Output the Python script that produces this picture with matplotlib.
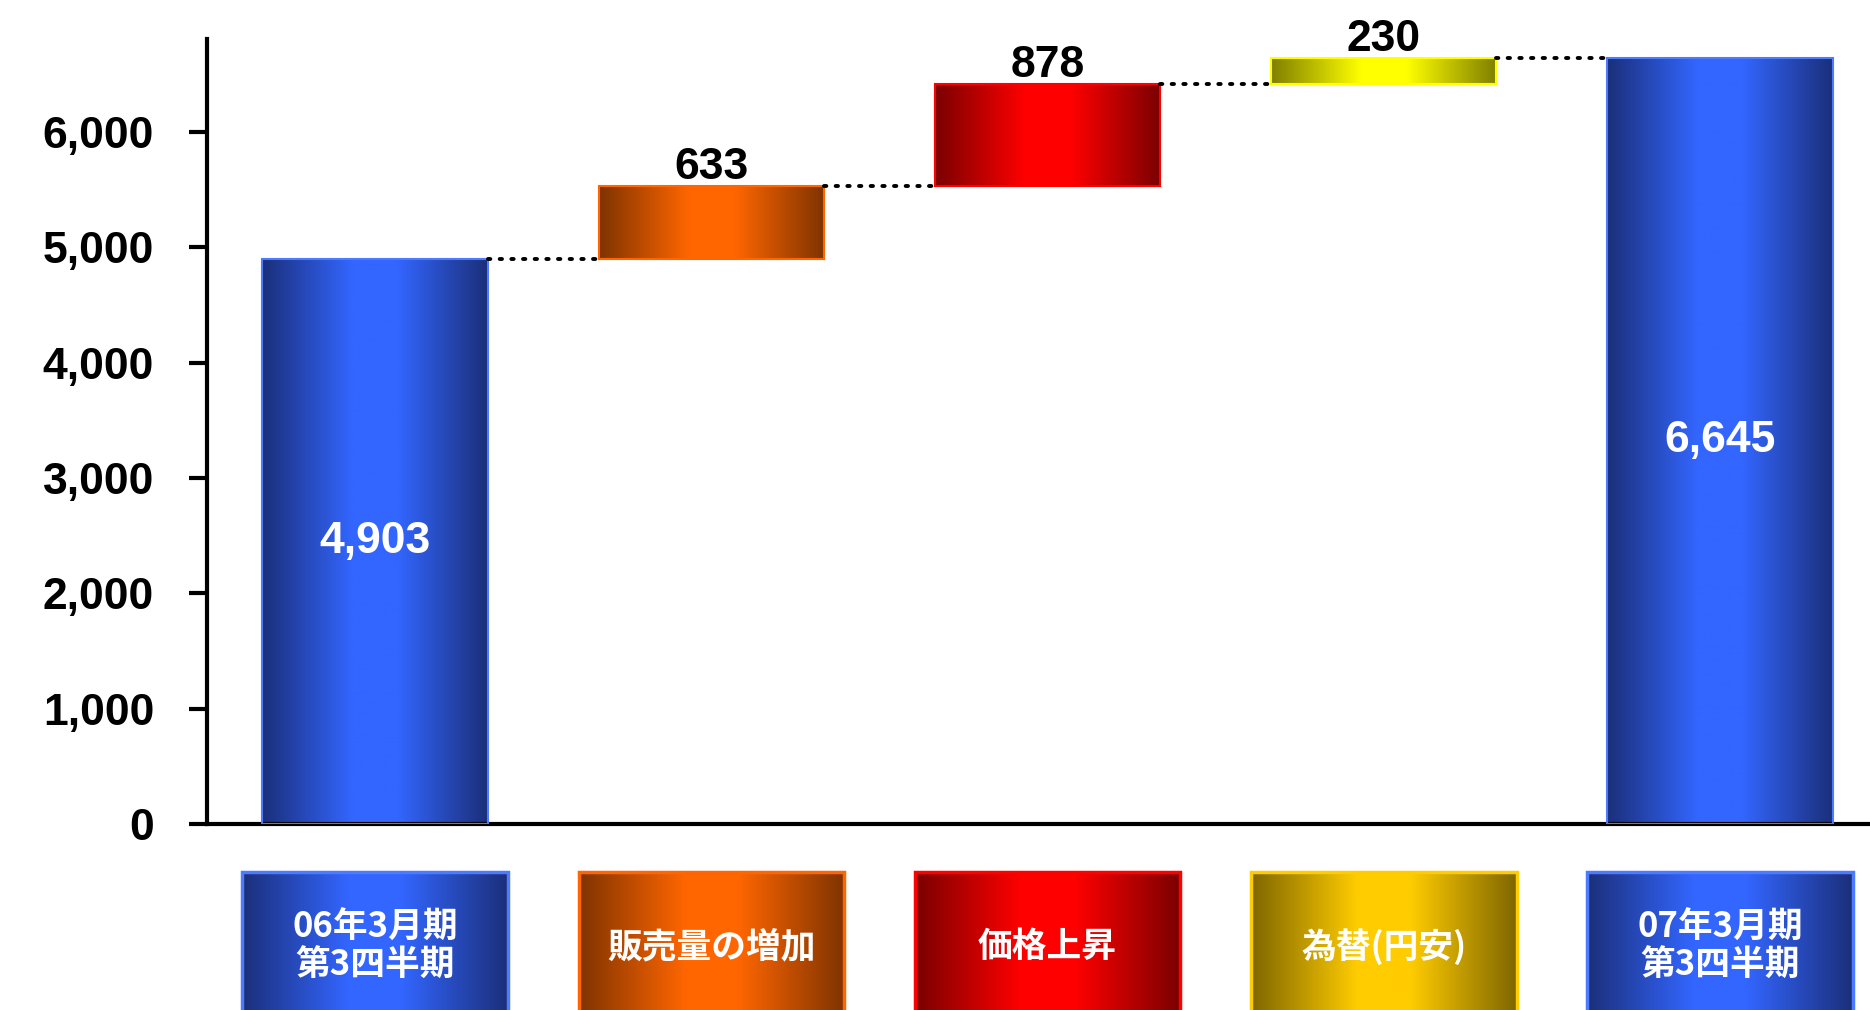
import numpy as np
import matplotlib
matplotlib.use("Agg")
import matplotlib.pyplot as plt
from matplotlib.colors import to_rgb

# ---- data ----
categories = ["06年3月期\n第3四半期", "販売量の増加", "価格上昇", "為替(円安)", "07年3月期\n第3四半期"]
start_value = 4903
increments = [633, 878, 230]
end_value = 6645
value_labels = ["4,903", "633", "878", "230", "6,645"]
yticks = [0, 1000, 2000, 3000, 4000, 5000, 6000]
ytick_labels = ["0", "1,000", "2,000", "3,000", "4,000", "5,000", "6,000"]

# colours: (edge-dark, centre-bright, border)
bar_colors = [("#1B2F7A", "#3366FF", "#4D7BFF"),
              ("#7F3300", "#FF6600", "#FF6600"),
              ("#7A0000", "#FF0000", "#FF0000"),
              ("#7F7F00", "#FFFF00", "#FFFF00"),
              ("#1B2F7A", "#3366FF", "#4D7BFF")]
box_colors = [("#1B2F7A", "#3366FF", "#4D7BFF"),
              ("#7F3300", "#FF6600", "#FF6600"),
              ("#7A0000", "#FF0000", "#FF0000"),
              ("#7F6600", "#FFCC00", "#FFCC00"),
              ("#1B2F7A", "#3366FF", "#4D7BFF")]

NUM_FONT = ["Liberation Sans", "DejaVu Sans"]
CJK_FONT = ["Noto Sans CJK JP", "DejaVu Sans"]


def gradient(dark, bright, n=256):
    d = np.array(to_rgb(dark))
    b = np.array(to_rgb(bright))
    t = np.linspace(0, 1, n)
    stops_t = [0.0, 0.40, 0.60, 1.0]
    w = np.interp(t, stops_t, [0.0, 1.0, 1.0, 0.0])
    arr = d[None, :] * (1 - w[:, None]) + b[None, :] * w[:, None]
    return arr[None, :, :]


def fill_gradient(axis, patch, dark, bright, z):
    x0 = patch.get_x()
    x1 = x0 + patch.get_width()
    y0 = patch.get_y()
    y1 = y0 + patch.get_height()
    im = axis.imshow(gradient(dark, bright), extent=(x0, x1, y0, y1),
                     aspect="auto", interpolation="bilinear", zorder=z)
    im.set_clip_path(patch)
    return im


fig = plt.figure(figsize=(18.7, 10.1), dpi=100)
ax = fig.add_axes([0.1107, 0.1842, 0.8893, 0.7772])

x = np.arange(len(categories))
cum = np.concatenate([[start_value], start_value + np.cumsum(increments)])
bottoms = [0] + list(cum[:-1]) + [0]
heights = [start_value] + increments + [end_value]
tops = [b + h for b, h in zip(bottoms, heights)]

bars = ax.bar(x, heights, bottom=bottoms, width=0.67, zorder=3)
for patch, (dk, br, bd) in zip(bars, bar_colors):
    patch.set_facecolor("none")
    patch.set_edgecolor(bd)
    patch.set_linewidth(1.5)
    fill_gradient(ax, patch, dk, br, 2)

# connectors
for i in range(len(bars) - 1):
    p = bars[i]
    q = bars[i + 1]
    xa = p.get_x() + p.get_width()
    xb = q.get_x() + 0.015
    ax.plot([xa, xb], [tops[i], tops[i]], color="black", lw=2.8,
            linestyle=(0, (0.6, 2.4)), dash_capstyle="round", zorder=4)

# value labels
for i, (lab, patch) in enumerate(zip(value_labels, bars)):
    cx = patch.get_x() + patch.get_width() / 2
    if i == 0 or i == len(bars) - 1:
        ax.text(cx, heights[i] / 2, lab, ha="center", va="center", color="white",
                fontsize=32, fontweight="bold", family=NUM_FONT, zorder=5)
    else:
        ax.annotate(lab, (cx, tops[i]), xytext=(0, 5), textcoords="offset points",
                    ha="center", va="baseline", color="black", fontsize=32,
                    fontweight="bold", family=NUM_FONT, zorder=5,
                    annotation_clip=False)

ax.set_xlim(-0.5, 4.446)
ax.set_ylim(0, 6808)
ax.set_yticks(yticks)
ax.set_yticklabels(ytick_labels, fontsize=32, fontweight="bold", family=NUM_FONT)
ax.set_xticks([])
for s in ["top", "right"]:
    ax.spines[s].set_visible(False)
ax.spines["left"].set_linewidth(3)
ax.spines["bottom"].set_linewidth(3)
ax.tick_params(axis="y", length=13, width=3, pad=25)

# category boxes below
ax2 = fig.add_axes([0.1107, 0.0, 0.8893, 0.1366])
ax2.set_xlim(-0.5, 4.446)
ax2.set_ylim(0, 1)
ax2.axis("off")
boxes = ax2.bar(x, 1.1, bottom=-0.1, width=0.79, zorder=3, clip_on=False)
for patch, (dk, br, bd), cat in zip(boxes, box_colors, categories):
    patch.set_facecolor("none")
    patch.set_edgecolor(bd)
    patch.set_linewidth(2.5)
    fill_gradient(ax2, patch, dk, br, 2)
    cx = patch.get_x() + patch.get_width() / 2
    ax2.text(cx, 0.46, cat, ha="center", va="center", color="white",
             fontsize=25, fontweight="bold", family=CJK_FONT, linespacing=1.1,
             zorder=5)
ax2.set_xlim(-0.5, 4.446)
ax2.set_ylim(0, 1)

fig.savefig("out.png", dpi=100, facecolor="white")
